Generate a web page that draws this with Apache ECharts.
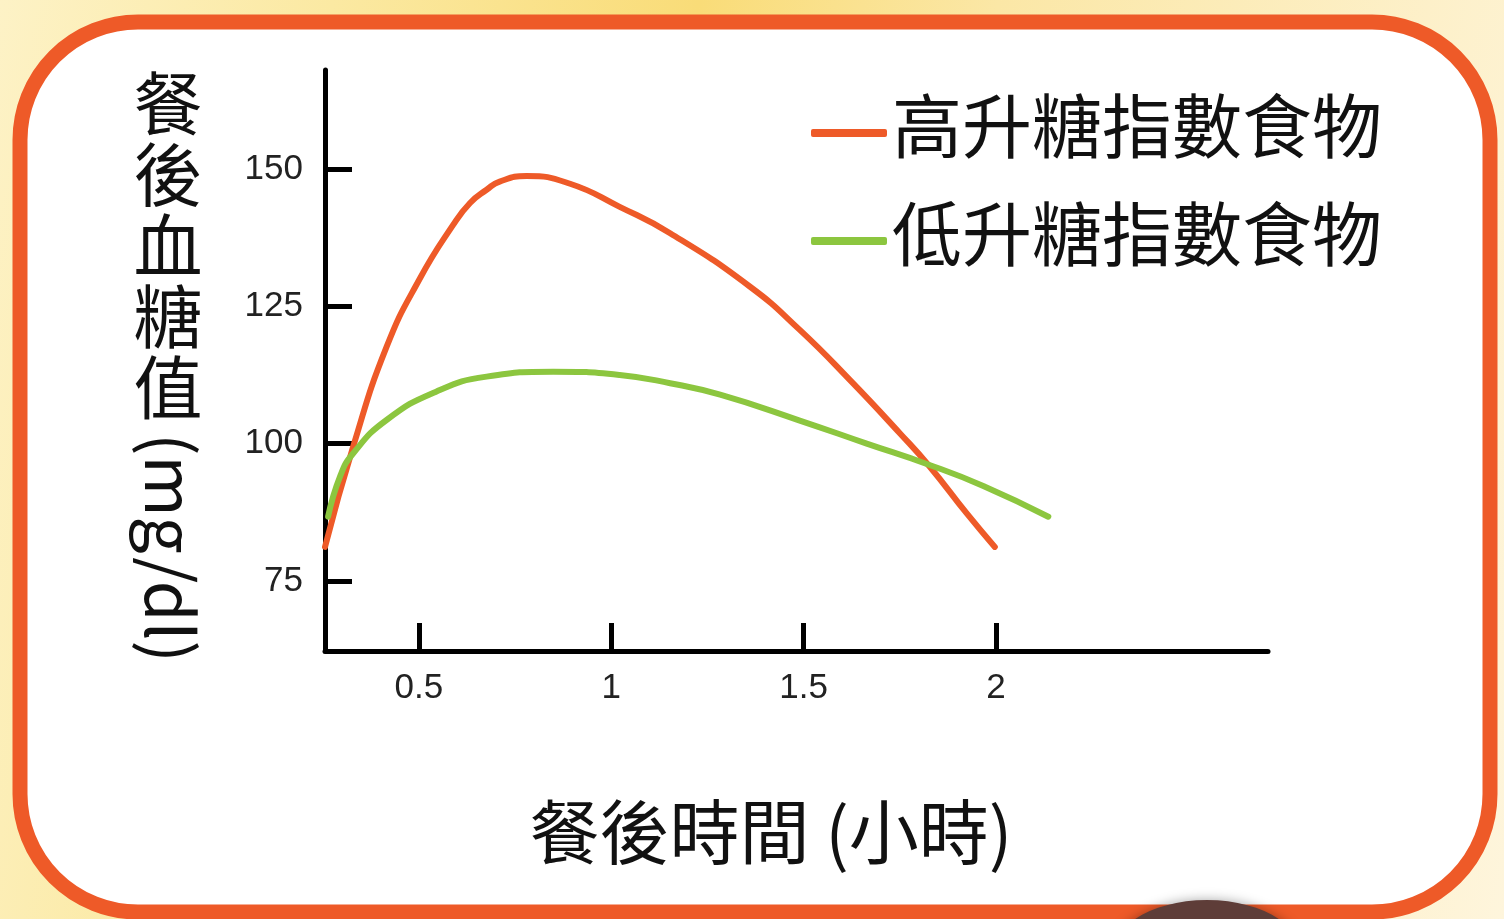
<!DOCTYPE html>
<html>
<head>
<meta charset="utf-8">
<script src="https://cdn.jsdelivr.net/npm/echarts@6/dist/echarts.min.js"></script>
<style>
html,body{margin:0;padding:0;}
body{width:1504px;height:919px;overflow:hidden;
background:linear-gradient(100deg,#FDF2C6 0%,#FBE9A2 20%,#F9DC78 42%,#FBE7A6 60%,#FEF5DC 100%);}
#chart{width:1504px;height:919px;}
</style>
</head>
<body>
<div id="chart"></div>
<script>
// ---- data ----
const seriesNames = ['高升糖指數食物', '低升糖指數食物'];
const highGI = [[0.256,81.2],[0.329,99.4],[0.416,117.6],[0.503,130.1],[0.589,139.8],[0.633,143.8],[0.676,146.2],[0.71,147.7],[0.78,148.7],[0.893,147.3],[1.022,143.1],[1.153,138.3],[1.36,128.6],[1.49,120.7],[1.62,111.6],[1.75,101.9],[1.828,95.8],[1.924,87.3],[1.997,81.2]];
const lowGI = [[0.264,86.7],[0.295,94.0],[0.329,98.2],[0.416,104.3],[0.546,109.5],[0.676,112.2],[0.849,113.1],[1.022,112.5],[1.153,111.0],[1.283,108.9],[1.49,104.2],[1.664,100.0],[1.82,96.3],[1.967,92.3],[2.136,86.7]];
const xTicks = [0.5, 1, 1.5, 2];
const yTicks = [75, 100, 125, 150];
const yAxisTitle = '餐\n後\n血\n糖\n值';
const yAxisUnit = '(mg/dl)';
const xAxisTitle = '餐後時間 (小時)';

const ORANGE = '#EE5A28';
const GREEN = '#8CC63F';
const CJK = '"Noto Sans CJK TC","Noto Sans CJK SC",sans-serif';
const LAT = '"Liberation Sans",Arial,sans-serif';

const chart = echarts.init(document.getElementById('chart'), null, {renderer:'canvas'});
chart.setOption({
  backgroundColor: 'transparent',
  animation: false,
  grid: {left: 325, right: 236, top: 70, bottom: 268, containLabel: false},
  legend: {
    orient: 'vertical',
    left: 806, top: 86,
    itemWidth: 76, itemHeight: 8, itemGap: 26,
    icon: 'roundRect',
    formatter: name => '{a|' + name + '}\n{b| }',
    textStyle: {
      fontFamily: CJK, fontSize: 70, color: '#111',
      rich: {
        a: {fontFamily: CJK, fontSize: 70, lineHeight: 70, color: '#111'},
        b: {fontSize: 10, lineHeight: 14}
      }
    },
    data: seriesNames
  },
  xAxis: {
    type: 'value', min: 0.256, max: 2.707,
    splitLine: {show: false},
    axisLine: {show: true, lineStyle: {color: '#000', width: 5}},
    axisTick: {show: true, inside: true, length: 28, lineStyle: {color: '#000', width: 5}, customValues: xTicks},
    axisLabel: {show: true, customValues: xTicks, fontFamily: LAT, fontSize: 35, color: '#222', margin: 20,
      formatter: v => String(v)}
  },
  yAxis: {
    type: 'value', min: 62.26, max: 168,
    splitLine: {show: false},
    axisLine: {show: true, lineStyle: {color: '#000', width: 5}},
    axisTick: {show: true, inside: true, length: 27, lineStyle: {color: '#000', width: 5}, customValues: yTicks},
    axisLabel: {show: true, customValues: yTicks, fontFamily: LAT, fontSize: 35, color: '#222', margin: 22}
  },
  graphic: [
    {type: 'rect', z: -100, silent: true,
     shape: {x: 20, y: 22, width: 1470, height: 890, r: 118},
     style: {fill: '#fff', stroke: ORANGE, lineWidth: 15}},
    {type: 'ellipse', z: -90, silent: true,
     shape: {cx: 1207, cy: 955, rx: 95, ry: 55},
     style: {fill: '#5E3D38', shadowBlur: 12, shadowColor: 'rgba(0,0,0,0.35)'}},
    {type: 'text', z: 10, x: 168, y: 68,
     style: {text: yAxisTitle, fontFamily: CJK, fontSize: 69, lineHeight: 71, fill: '#111', align: 'center', verticalAlign: 'top'}},
    {type: 'text', z: 10, x: 170, y: 548, rotation: -Math.PI/2,
     style: {text: yAxisUnit, fontFamily: CJK, fontSize: 66, fill: '#111', align: 'center', verticalAlign: 'middle'}},
    {type: 'text', z: 10, x: 771, y: 832,
     style: {text: xAxisTitle, fontFamily: CJK, fontSize: 70, fill: '#111', align: 'center', verticalAlign: 'middle'}}
  ],
  series: [
    {name: seriesNames[0], type: 'line', data: highGI, smooth: 0.5, symbol: 'none', showSymbol: false,
     color: ORANGE, lineStyle: {color: ORANGE, width: 6, cap: 'round', join: 'round'}, z: 3},
    {name: seriesNames[1], type: 'line', data: lowGI, smooth: 0.5, symbol: 'none', showSymbol: false,
     color: GREEN, lineStyle: {color: GREEN, width: 6, cap: 'round', join: 'round'}, z: 3}
  ]
});
</script>
</body>
</html>
